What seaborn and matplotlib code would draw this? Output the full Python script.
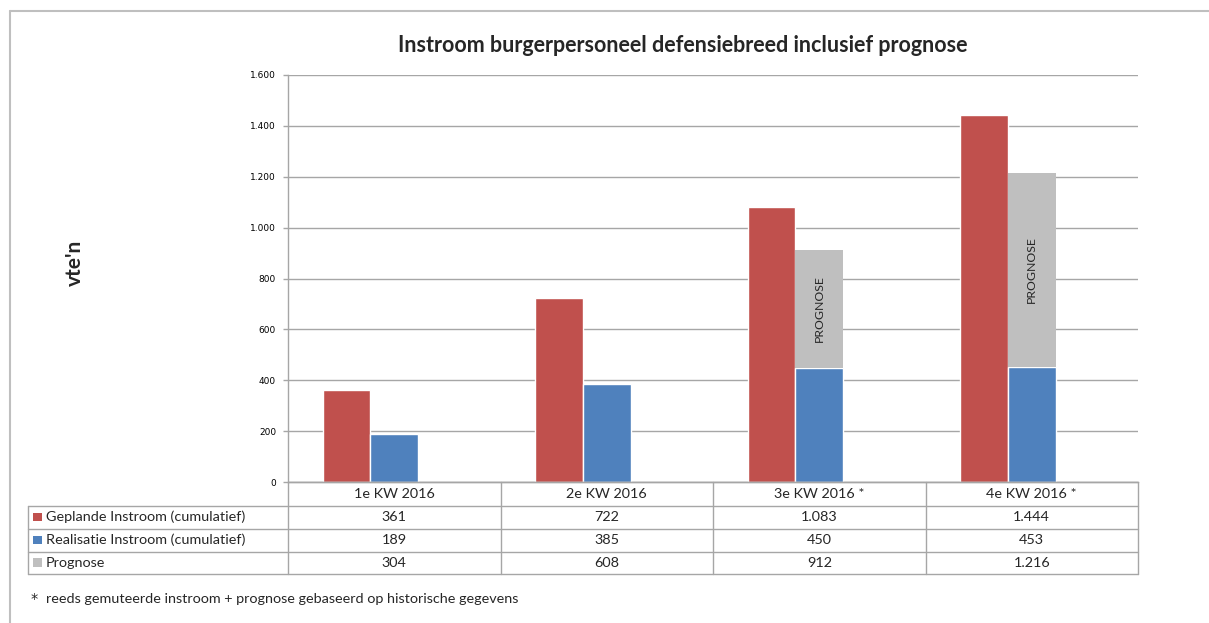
import numpy as np
import pandas as pd
import seaborn as sns
import matplotlib.pyplot as plt

sns.set_theme(style='white')
plt.rcParams['font.family'] = ['Lato', 'DejaVu Sans']

# data
kwartalen = ['1e KW 2016', '2e KW 2016', '3e KW 2016 *', '4e KW 2016 *']
gepland = [361, 722, 1083, 1444]
realisatie = [189, 385, 450, 453]
prognose = [304, 608, 912, 1216]
prognose_getoond = [False, False, True, True]
reeksen = ['Geplande Instroom (cumulatief)', 'Realisatie Instroom (cumulatief)', 'Prognose']
kleuren = ['#C0504D', '#4F81BD', '#BFBFBF']
y_ticks = [0, 200, 400, 600, 800, 1000, 1200, 1400, 1600]
titel = 'Instroom burgerpersoneel defensiebreed inclusief prognose'
voetnoot = 'reeds gemuteerde instroom + prognose gebaseerd op historische gegevens'

W, H = 1209, 623
LIJN = '#A6A6A6'


def nl(v):
    return f'{v:,.0f}'.replace(',', '.')


def fx(px):
    return px / W


def fy(py):
    return 1 - py / H


fig = plt.figure(figsize=(W / 100, H / 100), dpi=100)
fig.patch.set_facecolor('white')

# plot area
left, right, top, bottom = 288, 1138, 75, 482
ax = fig.add_axes([fx(left), fy(bottom), fx(right) - fx(left), fy(top) - fy(bottom)])

df = pd.DataFrame({
    'kwartaal': kwartalen * 2,
    'waarde': gepland + realisatie,
    'reeks': [reeksen[0]] * len(kwartalen) + [reeksen[1]] * len(kwartalen),
})
# three slots per quarter like the Excel cluster; the third one stays empty
bw = 0.225
sns.barplot(data=df, x='kwartaal', y='waarde', hue='reeks', hue_order=reeksen,
            palette=kleuren, width=3 * bw, saturation=1, legend=False,
            errorbar=None, ax=ax)

# prognose stacked on top of realisatie
idx = np.arange(len(kwartalen))
real = np.array(realisatie)
prog = np.array(prognose)
mask = np.array(prognose_getoond)
ax.bar(idx[mask], prog[mask] - real[mask], bottom=real[mask], width=bw,
       color=kleuren[2], linewidth=0)
for i in idx[mask]:
    ax.text(i, (real[i] + prog[i]) / 2, 'PROGNOSE', rotation=90,
            ha='center', va='center', fontsize=8.8, color='#262626')

ax.set_xlim(-0.5, len(kwartalen) - 0.5)
ax.set_ylim(0, 1600)
ax.set_yticks(y_ticks, [nl(v) for v in y_ticks], fontfamily='DejaVu Sans', fontsize=6.5)
ax.tick_params(axis='y', length=3.6, width=1, color=LIJN, pad=5, labelcolor='black', left=True)
ax.tick_params(axis='x', length=0, labelbottom=False)
ax.set_xlabel('')
ax.set_ylabel('')
ax.set_axisbelow(True)
ax.yaxis.grid(True, color=LIJN, linewidth=1)
for s in ['top', 'right']:
    ax.spines[s].set_visible(False)
for s in ['left', 'bottom']:
    ax.spines[s].set_color(LIJN)
    ax.spines[s].set_linewidth(1)

fig.text(fx(683), fy(46), titel, ha='center', va='center', fontsize=15.5, fontweight='bold')
fig.text(fx(75), fy(263), "vte'n", ha='center', va='center', rotation=90,
         fontsize=15, fontweight='bold')

# overlay in pixel coordinates for the data table, frame and footnote
ov = fig.add_axes([0, 0, 1, 1])
ov.set_xlim(0, W)
ov.set_ylim(H, 0)
ov.axis('off')
ov.patch.set_alpha(0)

rows = [482, 505.5, 528.5, 551.5, 574]
cols = np.linspace(left, right, len(kwartalen) + 1)
tab_left = 28

for j, y in enumerate(rows):
    x0 = left if j == 0 else tab_left
    ov.plot([x0, right], [y, y], color=LIJN, lw=1)
ov.plot([tab_left, tab_left], [rows[1], rows[-1]], color=LIJN, lw=1)
ov.plot([left, left], [rows[0], rows[-1]], color=LIJN, lw=1)
for x in cols[1:]:
    ov.plot([x, x], [rows[0], rows[-1]], color=LIJN, lw=1)

fs = 10.4
centers = (cols[:-1] + cols[1:]) / 2
rc = [(rows[k] + rows[k + 1]) / 2 for k in range(len(rows) - 1)]
for c, lab in zip(centers, kwartalen):
    ov.text(c, rc[0], lab, ha='center', va='center', fontsize=fs)

for r, (naam, kleur, waarden) in enumerate(zip(reeksen, kleuren, [gepland, realisatie, prognose])):
    y = rc[r + 1]
    ov.add_patch(plt.Rectangle((33, y - 4.5), 8.5, 8.5, color=kleur, lw=0))
    ov.text(46, y, naam, ha='left', va='center', fontsize=fs)
    for c, v in zip(centers, waarden):
        ov.text(c, y, nl(v), ha='center', va='center', fontsize=fs)

ov.text(31, 599, '*', ha='left', va='center', fontsize=fs, fontfamily='DejaVu Sans')
ov.text(46, 599, voetnoot, ha='left', va='center', fontsize=fs)

# outer frame
ov.plot([10, 10], [11, H], color='#BFBFBF', lw=1.5)
ov.plot([10, W], [11, 11], color='#BFBFBF', lw=1.5)

fig.savefig('out.png', dpi=100)
